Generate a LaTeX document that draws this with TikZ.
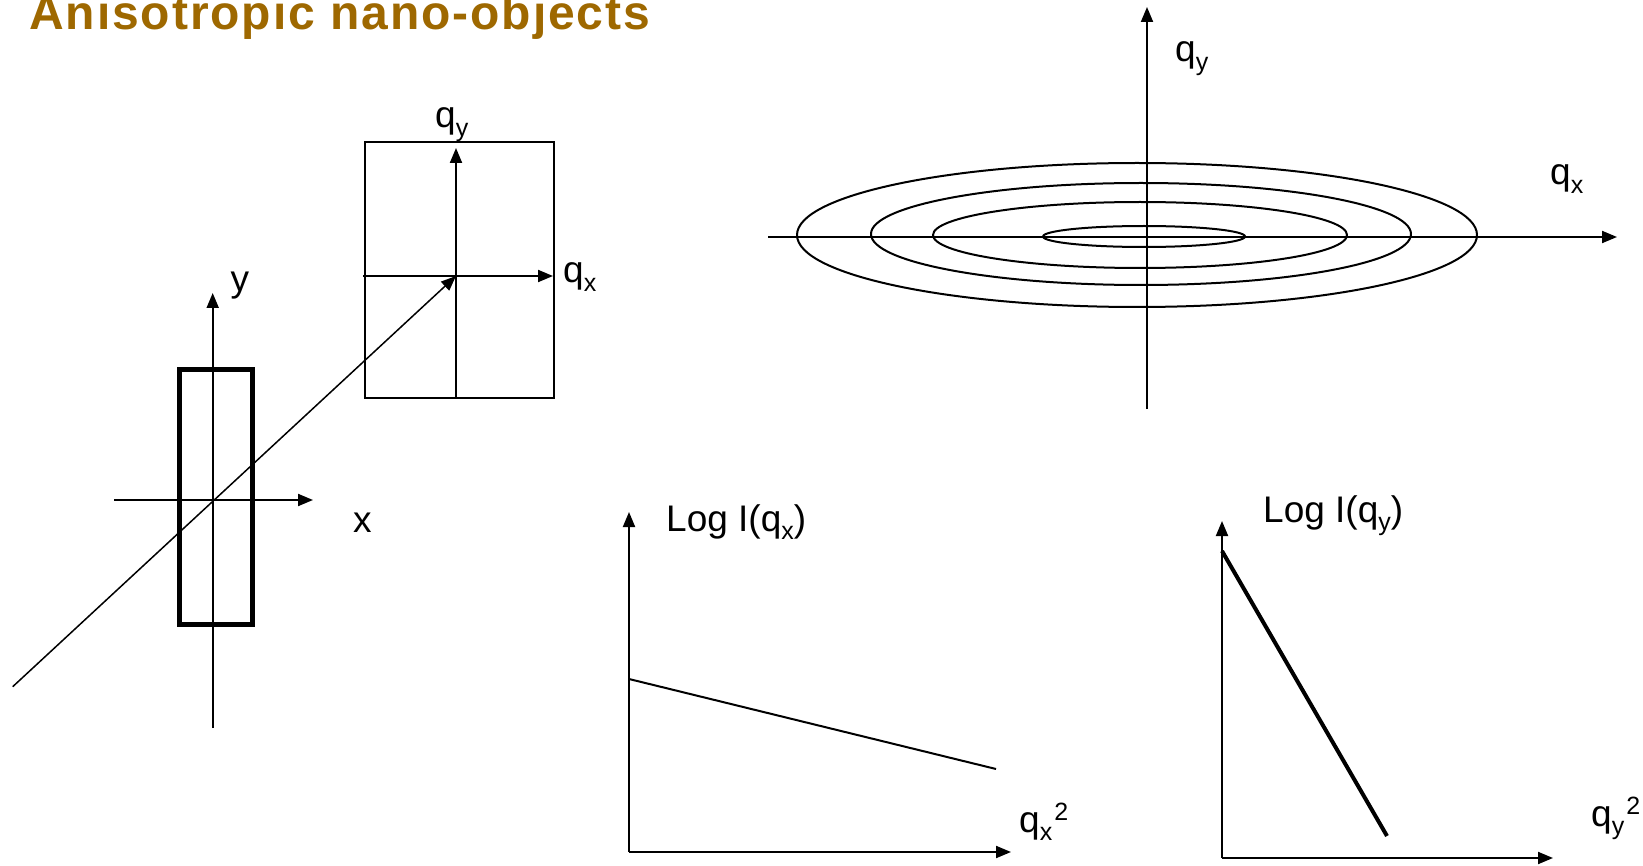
\documentclass[tikz,border=0pt]{standalone}
\usepackage{fontspec}
\setmainfont{Liberation Sans}
\definecolor{titlebrown}{RGB}{158, 104, 0}
\usepackage{tikz}
\usetikzlibrary{arrows.meta}
\newcommand{\lo}[1]{\raisebox{-0.22em}{\fontsize{25}{30}\selectfont #1}}
\newcommand{\hi}[1]{\kern2pt\raisebox{0.3em}{\fontsize{25}{30}\selectfont #1}}

\begin{document}
\begin{tikzpicture}[
  x=1pt, y=-1pt,
  axis/.style={line width=2pt, -{Triangle[length=15pt, width=12pt]}},
  ring/.style={line width=2pt},
  lbl/.style={anchor=base west, inner sep=0pt, font=\fontsize{37}{44}\selectfont},
  ttl/.style={anchor=base west, inner sep=0pt, text=titlebrown,
    font=\fontsize{48}{56}\selectfont\bfseries\addfontfeatures{LetterSpace=4}}
]
  \path[use as bounding box] (0,0) rectangle (1643,866);
  \clip (0,0) rectangle (1643,866);

  \node[ttl] (title) at (29,30) {Anisotropic nano-objects};

  % object in real space
  \coordinate (objO) at (212.7,500);
  \coordinate (objL) at (114,500);  \coordinate (objR) at (313,500);
  \coordinate (objB) at (212.7,728); \coordinate (objT) at (212.7,293);
  \draw[axis] (objL) -- (objR);
  \draw[axis] (objB) -- (objT);
  \draw[line width=5pt] (179.5,369.5) rectangle (252.5,624.5);
  \node[lbl] (lx) at (353,532) {x};
  \node[lbl] (ly) at (230.5,292) {y};

  % detector plane
  \coordinate (detO) at (456,276);
  \coordinate (detL) at (363,276);  \coordinate (detR) at (553,276);
  \coordinate (detB) at (456,398);  \coordinate (detT) at (456,148);
  \draw[line width=1.5pt] (365,142) rectangle (554,398);
  \draw[axis] (detL) -- (detR);
  \draw[axis] (detB) -- (detT);
  \node[lbl] (dqx) at (563,283) {q\lo{x}};
  \node[lbl] (dqy) at (435,128) {q\lo{y}};

  \coordinate (beam) at (12.7,686.7);
  \draw[line width=1.5pt, -{Triangle[length=15pt, width=12pt]}] (beam) -- (detO);

  % iso-intensity contours
  \coordinate (patL) at (768,237);  \coordinate (patR) at (1617,237);
  \coordinate (patB) at (1147,409); \coordinate (patT) at (1147,7);
  \draw[ring] (1137,235) ellipse [x radius=340, y radius=72];
  \draw[ring] (1141,234) ellipse [x radius=270, y radius=51];
  \draw[ring] (1140,235) ellipse [x radius=207, y radius=33];
  \draw[ring] (1144,236.5) ellipse [x radius=101, y radius=10.5];
  \draw[axis] (patL) -- (patR);
  \draw[axis] (patB) -- (patT);
  \node[lbl] (pqx) at (1550,185) {q\lo{x}};
  \node[lbl] (pqy) at (1175,62) {q\lo{y}};

  % Guinier plot along qx
  \coordinate (gxO) at (629,852);
  \coordinate (gxT) at (629,512);   \coordinate (gxR) at (1011,852);
  \coordinate (gxA) at (629,679);   \coordinate (gxE) at (996,769);
  \draw[axis] (gxO) -- (gxT);
  \draw[axis] (gxO) -- (gxR);
  \draw[line width=2pt] (gxA) -- (gxE);
  \node[lbl] (gxlog) at (666,531) {Log I(q\lo{x})};
  \node[lbl] (gxq) at (1019,832) {q\lo{x}\hi{2}};

  % Guinier plot along qy
  \coordinate (gyO) at (1222,858);
  \coordinate (gyT) at (1222,521);  \coordinate (gyR) at (1553,858);
  \coordinate (gyA) at (1222,551);  \coordinate (gyE) at (1387,836);
  \draw[axis] (gyO) -- (gyT);
  \draw[axis] (gyO) -- (gyR);
  \draw[line width=4pt] (gyA) -- (gyE);
  \node[lbl] (gylog) at (1263,522) {Log I(q\lo{y})};
  \node[lbl] (gyq) at (1591,826) {q\lo{y}\hi{2}};
\end{tikzpicture}
\end{document}
